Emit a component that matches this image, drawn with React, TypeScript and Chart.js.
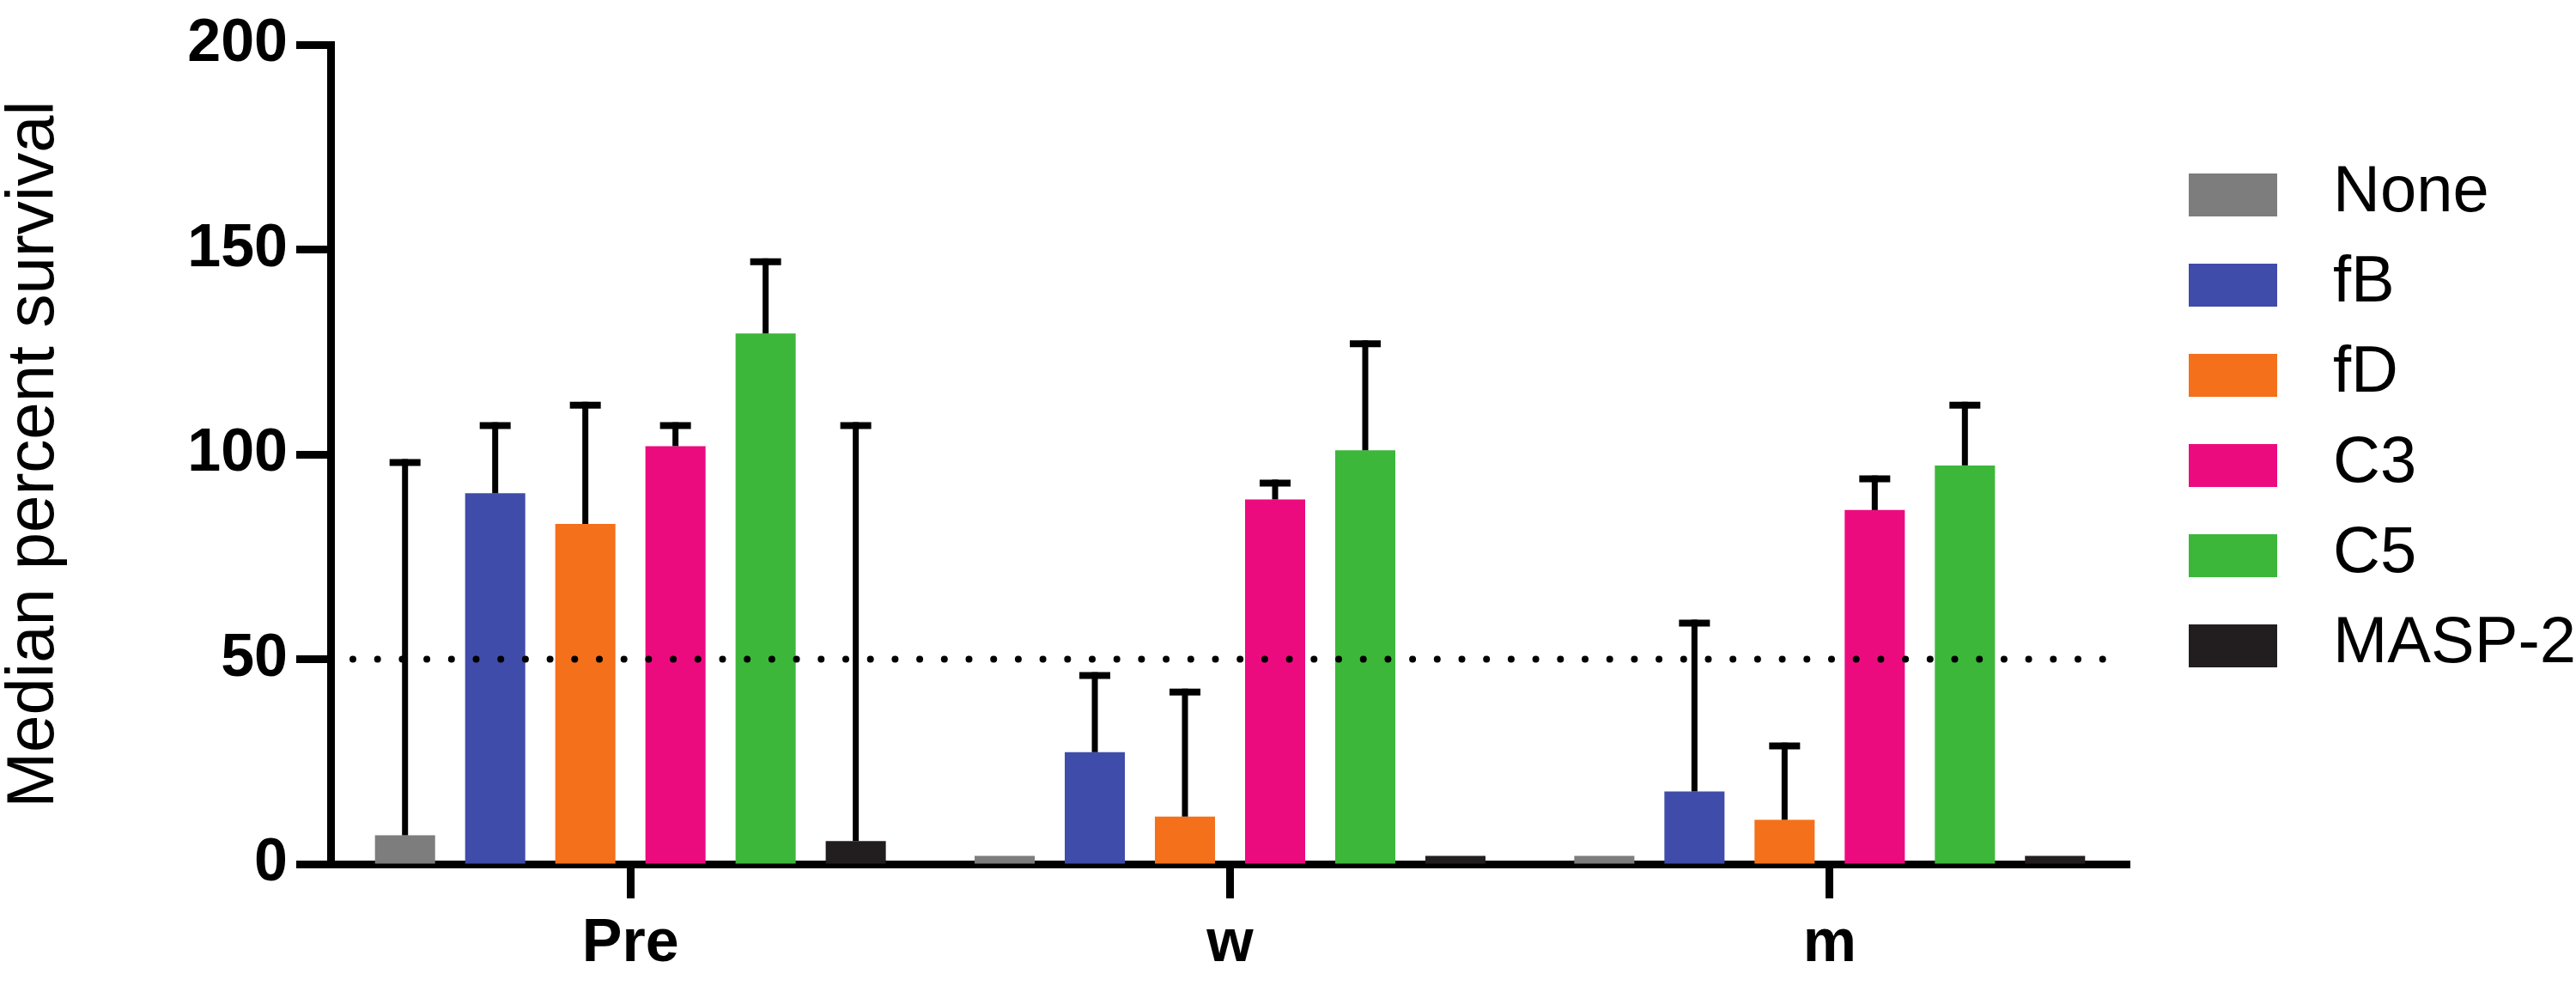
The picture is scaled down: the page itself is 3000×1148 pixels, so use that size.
import { useEffect, useRef } from "react";
import { Chart, registerables } from "chart.js";

Chart.register(...registerables);

const categories = ["Pre", "w", "m"];
const seriesNames = ["None", "fB", "fD", "C3", "C5", "MASP-2"];
const seriesColors = ["#7d7d7d", "#3f4ca9", "#f4701b", "#ec0b7f", "#3cb73a", "#221e1f"];

// medians per group (Pre, w, m)
const noneMedian = [7, 2, 2];
const fBMedian = [90.5, 27.3, 17.7];
const fDMedian = [83, 11.6, 10.8];
const c3Median = [102, 89, 86.4];
const c5Median = [129.5, 101, 97.3];
const masp2Median = [5.6, 2, 2];

// upper end of the error bar per group
const noneUpper = [98, null, null];
const fBUpper = [107, 46, 58.8];
const fDUpper = [112, 42, 28.8];
const c3Upper = [107, 93, 94];
const c5Upper = [147, 127, 112];
const masp2Upper = [107, null, null];

const yTicks = [0, 50, 100, 150, 200];
const thresholdValue = 50;

const medians = [noneMedian, fBMedian, fDMedian, c3Median, c5Median, masp2Median];
const uppers = [noneUpper, fBUpper, fDUpper, c3Upper, c5Upper, masp2Upper];

const TEXT_FONT = "'Liberation Sans', Arial, sans-serif";

const errorBarPlugin = {
  id: "errorBars",
  afterDatasetsDraw(chart: Chart) {
    const { ctx } = chart;
    const yScale = chart.scales.y;
    ctx.save();
    ctx.strokeStyle = "#000";
    uppers.forEach((upper, d) => {
      const meta = chart.getDatasetMeta(d);
      meta.data.forEach((bar: any, i: number) => {
        const value = upper[i];
        if (value == null) return;
        const top = yScale.getPixelForValue(value);
        ctx.lineWidth = 7;
        ctx.beginPath();
        ctx.moveTo(bar.x, bar.y);
        ctx.lineTo(bar.x, top - 4);
        ctx.stroke();
        ctx.lineWidth = 8;
        ctx.beginPath();
        ctx.moveTo(bar.x - 18, top);
        ctx.lineTo(bar.x + 18, top);
        ctx.stroke();
      });
    });
    ctx.restore();
  },
};

const thresholdPlugin = {
  id: "threshold",
  afterDatasetsDraw(chart: Chart) {
    const { ctx, chartArea } = chart;
    const y = chart.scales.y.getPixelForValue(thresholdValue);
    ctx.save();
    ctx.strokeStyle = "#000";
    ctx.lineWidth = 8;
    ctx.lineCap = "round";
    ctx.setLineDash([0, 28.7]);
    ctx.beginPath();
    ctx.moveTo(chartArea.left + 26, y);
    ctx.lineTo(chartArea.right - 12, y);
    ctx.stroke();
    ctx.restore();
  },
};

const sideLegendPlugin = {
  id: "sideLegend",
  afterDraw(chart: Chart) {
    const { ctx, chartArea } = chart;
    const left = chartArea.right + 69;
    ctx.save();
    ctx.font = `76px ${TEXT_FONT}`;
    ctx.textBaseline = "middle";
    ctx.textAlign = "left";
    chart.data.datasets.forEach((ds: any, i: number) => {
      const cy = chartArea.top + 175 + i * 105;
      ctx.fillStyle = ds.backgroundColor;
      ctx.fillRect(left, cy - 25, 103, 50);
      ctx.fillStyle = "#000";
      ctx.fillText(ds.label, left + 168, cy - 2);
    });
    ctx.restore();
  },
};

function SurvivalChart() {
  const canvasRef = useRef<HTMLCanvasElement | null>(null);

  useEffect(() => {
    if (!canvasRef.current) {
      return;
    }

    const chart = new Chart(canvasRef.current, {
      type: "bar",
      data: {
        labels: categories,
        datasets: seriesNames.map((name, i) => ({
          label: name,
          data: medians[i],
          backgroundColor: seriesColors[i],
          borderWidth: 0,
          categoryPercentage: 0.902,
          barPercentage: 0.667,
        })),
      },
      options: {
        animation: false,
        responsive: true,
        maintainAspectRatio: false,
        layout: { padding: { top: 43, right: 520, bottom: 0, left: 0 } },
        plugins: {
          legend: { display: false },
          tooltip: { enabled: false },
        },
        scales: {
          x: {
            z: 1,
            offset: true,
            afterFit: (scale: any) => {
              scale.height = 142;
            },
            grid: {
              display: true,
              drawOnChartArea: false,
              offset: false,
              tickLength: 40,
              tickWidth: 9,
              tickColor: "#000",
            },
            border: { display: true, width: 9, color: "#000" },
            ticks: {
              color: "#000",
              padding: 12,
              font: { family: TEXT_FONT, size: 70, weight: "bold" },
            },
          },
          y: {
            z: 1,
            min: 0,
            max: 200,
            afterFit: (scale: any) => {
              scale.width = 385;
            },
            afterBuildTicks: (scale: any) => {
              scale.ticks = yTicks.map((v) => ({ value: v }));
            },
            grid: {
              display: true,
              drawOnChartArea: false,
              tickLength: 40,
              tickWidth: 9,
              tickColor: "#000",
            },
            border: { display: true, width: 9, color: "#000" },
            ticks: {
              color: "#000",
              padding: 10,
              font: { family: TEXT_FONT, size: 70, weight: "bold" },
            },
            title: {
              display: true,
              text: "Median percent survival",
              color: "#000",
              padding: { top: 1, bottom: 0 },
              font: { family: TEXT_FONT, size: 78, lineHeight: 1 },
            },
          },
        },
      },
      plugins: [thresholdPlugin, errorBarPlugin, sideLegendPlugin],
    });

    return () => {
      chart.destroy();
    };
  }, []);

  return (
    <div style={{ position: "absolute", left: 0, top: 0, width: 3000, height: 1148, background: "#fff" }}>
      <canvas ref={canvasRef} />
    </div>
  );
}

export default function App() {
  return <SurvivalChart />;
}
